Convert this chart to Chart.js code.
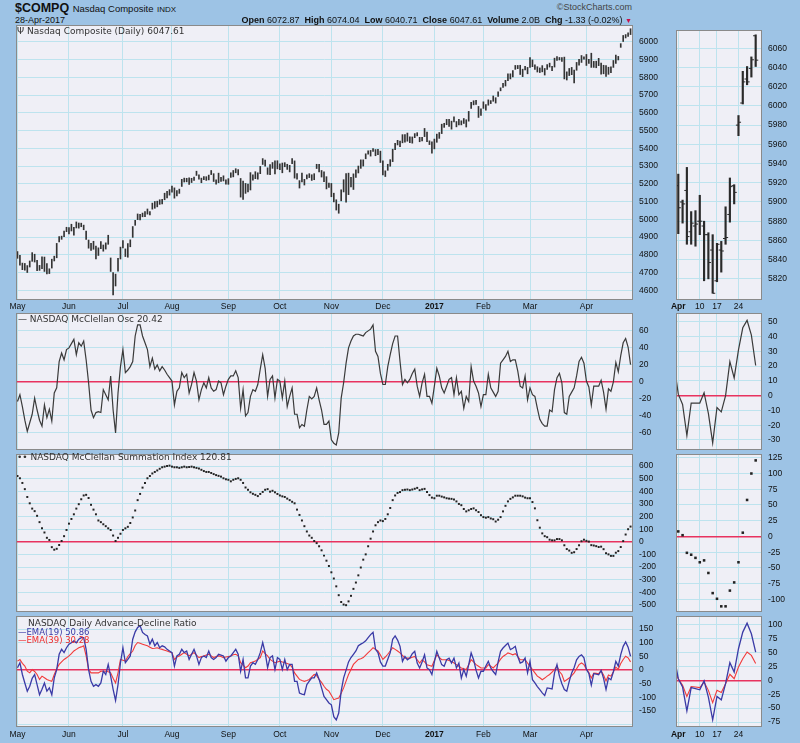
<!DOCTYPE html>
<html>
<head>
<meta charset="utf-8">
<script src="https://cdn.jsdelivr.net/npm/chart.js@4.4.1/dist/chart.umd.min.js"></script>
<style>
  html, body { margin: 0; padding: 0; }
  body { width: 800px; height: 743px; background: #9dc3e5; position: relative; overflow: hidden;
         font-family: "Liberation Sans", Arial, sans-serif; }
  canvas { position: absolute; z-index: 1; }
  .txt { position: absolute; white-space: nowrap; color: #111; line-height: 1; z-index: 5; }
  .lbl { position: absolute; white-space: nowrap; font-family: "DejaVu Sans", sans-serif;
         font-size: 9px; line-height: 1; color: #333; z-index: 5; }
</style>
</head>
<body>

<div class="txt" style="left:15px;top:1.5px;font-size:12.5px;font-weight:bold;">$COMPQ <span style="font-size:9.5px;font-weight:normal;">Nasdaq Composite</span> <span style="font-size:8px;font-weight:normal;">INDX</span></div>
<div class="txt" style="left:15px;top:16px;font-size:9px;">28-Apr-2017</div>
<div class="txt" style="right:168px;top:3px;font-size:9px;color:#444;">©StockCharts.com</div>
<div class="txt" style="right:168px;top:15.5px;font-size:9px;"><b>Open</b> 6072.87 &nbsp;<b>High</b> 6074.04 &nbsp;<b>Low</b> 6040.71 &nbsp;<b>Close</b> 6047.61 &nbsp;<b>Volume</b> 2.0B &nbsp;<b>Chg</b> -1.33 (-0.02%) <span style="color:#c8104a;font-size:7px;">▼</span></div>

<div class="lbl" style="left:17px;top:27px;">Ψ Nasdaq Composite (Daily) 6047.61</div>
<div class="lbl" style="left:18px;top:315px;">— NASDAQ McClellan Osc 20.42</div>
<div class="lbl" style="left:17px;top:453px;">•• NASDAQ McClellan Summation Index 120.81</div>
<div class="lbl" style="left:28px;top:619px;">NASDAQ Daily Advance-Decline Ratio</div>
<div class="lbl" style="left:18px;top:628px;font-size:8.5px;color:#3a3aa6;">—EMA(19) 50.86</div>
<div class="lbl" style="left:18px;top:636px;font-size:8.5px;color:#f02c2c;">—EMA(39) 30.28</div>

<script>
// trading days 2-May-2016 .. 28-Apr-2017, index 0..250
const monthTicks = [0, 21, 43, 63, 86, 107, 128, 149, 170, 190, 209, 232];
const monthLabels = ["May", "Jun", "Jul", "Aug", "Sep", "Oct", "Nov", "Dec", "2017", "Feb", "Mar", "Apr"];
const aprTicks = [232, 237, 241, 246];
const aprLabels = ["Apr", "10", "17", "24"];

const priceTicksLeft = [4600, 4700, 4800, 4900, 5000, 5100, 5200, 5300, 5400, 5500, 5600, 5700, 5800, 5900, 6000];
const priceTicksRight = [5820, 5840, 5860, 5880, 5900, 5920, 5940, 5960, 5980, 6000, 6020, 6040, 6060];
const oscTicksLeft = [-60, -40, -20, 0, 20, 40, 60];
const oscTicksRight = [-30, -20, -10, 0, 10, 20, 30, 40, 50];
const sumTicksLeft = [-500, -400, -300, -200, -100, 0, 100, 200, 300, 400, 500, 600];
const sumTicksRight = [-100, -75, -50, -25, 0, 25, 50, 75, 100, 125];
const adTicksLeft = [-200, -175, -150, -125, -100, -75, -50, -25, 0, 25, 50, 75, 100, 125, 150, 175];
const adTicksRight = [-75, -50, -25, 0, 25, 50, 75, 100];

const priceHigh = [
  4818,4797,4753,4751,4739,4765,4812,4803,4769,4740,4789,4787,4750,4721,4775,4792,4864,4902,4905,4933,4955,
  4953,4972,4954,4985,4979,4978,4967,4933,4883,4865,4876,4849,4839,4874,4855,4867,4910,4782,4699,4691,4780,4843,
  4880,4833,4863,4884,4959,4994,5030,5028,5035,5044,5058,5044,5091,5100,5102,5110,5113,5147,5158,5167,
  5187,5177,5162,5170,5225,5232,5231,5233,5231,5238,5271,5250,5232,5241,5240,5249,5275,5257,5222,5260,5237,5245,5222,
  5229,5262,5275,5285,5280,5230,5215,5202,5198,5263,5250,5268,5262,5298,5342,5333,5290,5308,5320,5330,5330,
  5312,5317,5319,5310,5304,5342,5329,5258,5218,5261,5225,5251,5257,5251,5257,5310,5309,5275,5268,5240,5204,
  5202,5147,5110,5085,5166,5223,5258,5260,5237,5256,5278,5300,5335,5335,5369,5386,5388,5398,5393,5394,5384,
  5330,5273,5310,5336,5395,5428,5445,5441,5477,5478,5486,5464,5464,5483,5488,5462,5462,5512,5491,5442,5437,
  5452,5480,5489,5536,5541,5563,5563,5553,5577,5551,5564,5555,5568,5561,5608,5659,5668,5670,5636,5623,
  5662,5647,5673,5669,5695,5685,5719,5741,5766,5783,5820,5820,5838,5867,5867,5868,5846,5862,5856,
  5911,5898,5871,5860,5853,5866,5850,5872,5880,5862,5908,5917,5912,5911,5914,5831,5850,5856,5841,5884,5901,5923,5916,
  5929,5902,5936,5890,5891,5907,5880,5868,5866,5857,5859,5895,5925,5918,5990,6036,6041,6051,6074
];
const priceLow = [
  4780,4741,4716,4713,4700,4731,4763,4759,4710,4712,4722,4706,4692,4694,4725,4765,4783,4873,4887,4902,4930,
  4918,4934,4910,4951,4950,4958,4941,4886,4837,4825,4831,4776,4796,4834,4820,4832,4859,4706,4574,4624,4708,4776,
  4838,4790,4786,4845,4898,4966,4998,4997,5014,5015,5029,5025,5057,5062,5070,5084,5086,5110,5120,5136,
  5153,5119,5132,5146,5185,5210,5211,5196,5207,5219,5247,5226,5206,5223,5219,5222,5252,5213,5198,5206,5214,5216,5198,
  5197,5236,5239,5262,5250,5125,5112,5146,5154,5165,5221,5229,5226,5257,5309,5300,5253,5251,5287,5255,5284,
  5280,5262,5296,5281,5267,5313,5232,5226,5176,5210,5193,5228,5235,5219,5223,5286,5267,5238,5212,5171,5180,
  5127,5098,5052,5034,5104,5154,5096,5139,5183,5168,5236,5261,5287,5300,5341,5367,5356,5383,5358,5364,5320,
  5250,5241,5276,5299,5325,5392,5419,5409,5431,5434,5440,5432,5429,5460,5470,5437,5441,5466,5437,5421,5372,
  5397,5434,5456,5483,5518,5533,5524,5508,5549,5521,5532,5532,5540,5520,5553,5625,5645,5647,5574,5586,
  5625,5615,5643,5652,5665,5655,5693,5724,5743,5751,5781,5791,5802,5845,5849,5816,5804,5842,5820,
  5856,5860,5844,5830,5827,5831,5813,5844,5858,5837,5858,5895,5898,5890,5791,5785,5810,5815,5769,5840,5868,5884,5902,
  5867,5878,5856,5856,5854,5866,5818,5820,5805,5817,5827,5856,5879,5898,5969,6002,6022,6030,6041
];
// April 2017 open / close (index 232..250)
const aprOpen = [5917,5900,5912,5869,5875,5880,5875,5866,5850,5818,5850,5862,5887,5917,5980,6003,6028,6039,6073];
const aprClose = [5894,5898,5864,5878,5877,5880,5866,5837,5805,5856,5849,5863,5916,5910,5983,6025,6025,6048,6047.61];

const mcOsc = [
  -23,-15,-29,-45,-58,-48,-38,-19,-33,-45,-52,-27,-42,-32,-46,-13,-7,24,34,26,
  38,40,45,50,32,46,42,48,26,-1,-33,-42,-36,-35,-36,-9,-15,-21,7,-33,
  -60,-13,18,38,11,14,18,24,54,67,67,54,46,38,18,28,15,20,13,18,
  14,9,5,1,-27,-11,-7,11,5,9,-13,-3,11,1,-21,-9,-1,-7,5,-7,
  -11,-9,1,-1,-15,-5,3,7,7,13,5,-31,-9,-40,-36,-17,-9,-11,-3,15,
  32,16,-17,3,7,-19,3,1,-19,1,-29,-17,-7,-38,-38,-54,-50,-52,-33,-17,
  -20,-17,-7,-21,-33,-50,-50,-46,-68,-72,-74,-60,-19,-1,22,40,48,54,56,56,
  55,54,58,60,62,67,36,30,10,-3,-3,18,32,45,54,54,24,-3,3,-1,
  3,10,15,-5,-17,-1,9,-17,-17,-25,-5,16,7,-7,-13,-5,3,5,-15,5,
  -15,-11,-31,-17,-23,18,1,-5,-13,-29,-15,-15,9,-7,-12,-17,-11,22,26,30,
  36,24,26,26,13,-5,-7,7,-21,-7,-15,-17,-31,-44,-49,-52,-52,-33,-35,-9,
  5,10,-1,-36,-38,-17,-12,-7,7,24,29,22,1,-6,-27,-5,-5,-5,2,-12,
  -32,-8,-11,0,23,12,31,46,51,41,20.42
];

const mcSum = [
  521,503,466,417,355,305,263,243,206,156,107,74,32,15,-42,-62,-55,-25,7,45,
  94,144,181,218,263,298,337,367,372,347,293,255,218,169,156,139,124,107,94,50,
  7,32,64,94,107,119,149,193,248,330,379,429,466,503,521,541,553,565,578,590,
  595,600,603,595,590,590,585,590,595,590,592,595,590,585,580,570,560,553,553,545,
  536,528,522,516,503,495,491,479,491,498,503,491,466,430,412,392,380,372,362,379,
  395,412,417,397,404,392,379,367,360,355,342,330,317,305,255,213,169,124,82,50,
  32,7,-10,-35,-67,-109,-149,-191,-241,-290,-352,-422,-476,-496,-501,-471,-427,-372,-322,-265,
  -203,-141,-99,-35,25,82,131,156,169,164,181,218,268,330,367,387,394,409,412,414,
  409,414,420,427,409,415,419,394,370,350,345,365,365,358,352,345,342,340,335,320,
  300,290,260,241,250,260,265,250,236,211,196,191,196,185,179,161,175,196,241,285,
  320,340,352,365,365,365,360,350,345,345,315,265,171,112,67,45,37,17,12,12,
  22,22,12,-27,-57,-69,-87,-82,-57,-27,5,17,8,2,-26,-29,-34,-41,-38,-58,
  -90,-99,-111,-111,-86,-73,-41,6,58,100,120.81
];

const adEma19 = [
  9,27,-16,-47,-77,-59,-30,-16,-53,-90,-70,-47,-77,-65,-90,-28,2,58,76,64,
  82,95,100,107,100,113,119,119,76,2,-41,-59,-53,-59,-47,-4,-16,21,-22,-70,
  -111,-53,27,82,27,39,52,113,140,156,162,138,130,125,95,113,89,101,82,89,
  85,76,70,64,15,52,58,76,64,70,39,58,76,52,21,46,52,46,70,46,
  39,46,58,55,52,33,46,52,64,76,58,-4,39,-28,-28,15,27,21,39,64,
  101,64,9,46,52,2,46,39,2,39,2,21,21,-41,-41,-84,-88,-90,-53,-40,
  -28,-28,-10,-34,-65,-96,-108,-120,-127,-170,-182,-157,-77,-28,0,30,46,58,70,89,
  95,100,107,119,130,138,76,64,30,15,15,40,64,113,125,110,87,32,50,38,
  44,60,69,26,8,30,56,8,2,-16,30,69,44,20,14,38,44,26,44,8,
  26,-29,2,-22,20,63,38,0,-29,-4,-4,15,32,8,-5,-16,30,69,81,90,
  99,75,80,87,50,26,30,44,-10,32,-35,-47,-60,-71,-83,-93,-65,-67,-69,-10,
  20,-22,-50,-71,-77,-41,-10,10,38,50,56,45,3,-12,-55,-13,-15,-17,-1,-30,
  -71,-29,-35,-6,32,15,57,87,103,84,50.86
];

const adEma39 = [
  33,39,25,15,-4,-10,2,-5,-16,-34,-22,-28,-34,-38,-41,-16,5,21,30,39,
  45,52,60,70,76,82,85,89,52,2,-10,-10,-10,-10,-4,-4,-4,-6,-10,-30,
  -47,-10,39,36,33,50,60,70,90,101,98,95,92,89,84,79,80,82,78,76,
  73,70,66,64,39,48,52,58,64,58,52,58,64,55,46,50,52,55,58,52,
  46,50,52,50,46,48,50,52,56,58,52,27,18,9,15,27,30,33,40,46,
  70,60,52,39,33,27,30,33,30,27,24,21,10,-10,-22,-34,-38,-41,-38,-34,
  -25,-16,-20,-34,-45,-59,-70,-77,-92,-108,-105,-102,-85,-65,-40,-16,2,21,30,39,
  42,46,55,64,72,82,76,70,55,39,48,58,70,82,76,70,63,54,44,44,
  44,47,50,38,26,38,30,20,17,14,35,56,47,38,38,38,35,32,26,20,
  14,8,5,2,20,38,30,20,14,8,8,8,20,14,8,17,26,40,50,56,
  63,60,56,60,50,38,38,38,26,14,2,-10,-22,-28,-35,-29,-22,-16,-7,2,
  14,-5,-16,-41,-35,-29,-20,-10,5,20,26,20,3,-9,-29,-11,-12,-13,-3,-18,
  -40,-18,-22,-6,11,3,24,39,51,45,30.28
];

const GRID = "#bde3ee";
const ZERO = "#e8325f";
const PANEL_BG = "#efeff6";
const BORDER = "#8a8a8a";
const TICK_FONT = { family: "Liberation Sans", size: 8.5 };

// fills the plot area and draws its frame
const panelPlugin = {
  id: "panel",
  beforeDraw(chart) {
    const { ctx, chartArea: a } = chart;
    ctx.save();
    ctx.fillStyle = PANEL_BG;
    ctx.fillRect(a.left, a.top, a.width, a.height);
    ctx.restore();
  },
  afterDraw(chart) {
    const { ctx, chartArea: a } = chart;
    ctx.save();
    ctx.strokeStyle = BORDER;
    ctx.lineWidth = 1;
    ctx.strokeRect(Math.round(a.left) + 0.5, Math.round(a.top) + 0.5, Math.round(a.width) - 1, Math.round(a.height) - 1);
    ctx.restore();
  }
};

function addCanvas(left, top, w, h) {
  const c = document.createElement("canvas");
  c.width = w;
  c.height = h;
  c.style.left = left + "px";
  c.style.top = top + "px";
  c.style.width = w + "px";
  c.style.height = h + "px";
  document.body.appendChild(c);
  return c;
}

function makePanel(cfg) {
  const left = cfg.side === "left";
  const canvas = addCanvas(left ? 0 : 670, cfg.top, left ? 676 : 130, cfg.height);
  const xt = left ? monthTicks : aprTicks;
  const xl = left ? monthLabels : aprLabels;
  const boldIdx = left ? 8 : 0;
  const isZero = (c) => cfg.zero && c.tick && c.tick.value === 0;

  return new Chart(canvas, {
    type: cfg.type || "line",
    data: { datasets: cfg.datasets },
    options: {
      responsive: false,
      animation: false,
      events: [],
      layout: { padding: { left: left ? 16 : 6, right: 0, top: 0, bottom: 0 } },
      plugins: { legend: { display: false }, tooltip: { enabled: false } },
      scales: {
        x: {
          type: "linear",
          offset: false,
          min: left ? -0.6 : 231.47,
          max: left ? 251 : 251.47,
          afterBuildTicks: (a) => { a.ticks = xt.map((v) => ({ value: v })); },
          afterFit: (a) => { a.height = cfg.xHeight || 0; a.paddingLeft = 0; a.paddingRight = 0; },
          ticks: {
            display: !!cfg.xHeight,
            autoSkip: false,
            maxRotation: 0,
            padding: cfg.xPad || 2,
            color: "#111",
            callback: (v, i) => xl[i],
            font: (c) => ({ family: "Liberation Sans", size: 8.5, weight: c.index === boldIdx ? "bold" : "normal" })
          },
          grid: { color: GRID, drawTicks: false, offset: false },
          border: { display: false }
        },
        y: {
          type: "linear",
          position: "right",
          min: cfg.yMin,
          max: cfg.yMax,
          afterBuildTicks: (a) => { a.ticks = cfg.yTicks.map((v) => ({ value: v })); },
          afterFit: (a) => { a.width = left ? 43 : 38; a.paddingTop = 0; a.paddingBottom = 0; },
          ticks: {
            padding: 6,
            color: "#111",
            font: TICK_FONT,
            callback: (v) => (cfg.labelEvery && (v % cfg.labelEvery !== 0 || v < -150)) ? "" : String(v)
          },
          grid: {
            drawTicks: false,
            color: (c) => isZero(c) ? ZERO : GRID,
            lineWidth: (c) => isZero(c) ? 1.6 : 1
          },
          border: { display: false }
        }
      }
    },
    plugins: [panelPlugin]
  });
}

const allIdx = priceHigh.map((_, i) => i);
const aprIdx = aprOpen.map((_, i) => 232 + i);
const lineOf = (arr) => arr.map((v, i) => ({ x: i, y: v }));

// price bars
const barsLeft = allIdx.map((i) => ({ x: i, y: [priceLow[i], priceHigh[i]] }));
const barsRight = allIdx.filter((i) => i >= 231).map((i) => ({ x: i, y: [priceLow[i], priceHigh[i]] }));

makePanel({
  side: "left", type: "bar", top: 25, height: 288, xHeight: 13, xPad: 2,
  yMin: 4545, yMax: 6095, yTicks: priceTicksLeft,
  datasets: [{ data: barsLeft, backgroundColor: "#333", borderWidth: 0, barThickness: 1 }]
});

makePanel({
  side: "right", type: "bar", top: 25, height: 288, xHeight: 13, xPad: 2,
  yMin: 5798, yMax: 6079, yTicks: priceTicksRight,
  datasets: [
    { type: "line", data: aprIdx.map((x, k) => ({ x: x - 0.32, y: aprOpen[k] })), showLine: false,
      pointStyle: "line", pointRadius: 1.2, borderColor: "#2a2a2a", borderWidth: 1 },
    { type: "line", data: aprIdx.map((x, k) => ({ x: x + 0.32, y: aprClose[k] })), showLine: false,
      pointStyle: "line", pointRadius: 1.2, borderColor: "#2a2a2a", borderWidth: 1 },
    { data: barsRight, backgroundColor: "#2a2a2a", borderWidth: 0, barThickness: 1.5 }
  ]
});

// McClellan oscillator
const oscLine = { borderColor: "#3a3a3a", borderWidth: 1.2, pointRadius: 0, tension: 0 };
makePanel({
  side: "left", top: 313, height: 137, zero: true,
  yMin: -80, yMax: 81, yTicks: oscTicksLeft,
  datasets: [Object.assign({ data: lineOf(mcOsc) }, oscLine)]
});
makePanel({
  side: "right", top: 313, height: 137, zero: true,
  yMin: -36.8, yMax: 56, yTicks: oscTicksRight,
  datasets: [Object.assign({ data: lineOf(mcOsc).filter((p) => p.x >= 231) }, oscLine)]
});

// Summation index
makePanel({
  side: "left", top: 450, height: 166, zero: true,
  yMin: -555, yMax: 695, yTicks: sumTicksLeft,
  datasets: [{ data: lineOf(mcSum), showLine: false, pointStyle: "rect", pointRadius: 1.4,
               backgroundColor: "#222", borderWidth: 0 }]
});
makePanel({
  side: "right", top: 450, height: 166, zero: true,
  yMin: -120, yMax: 131, yTicks: sumTicksRight,
  datasets: [{ data: lineOf(mcSum).filter((p) => p.x >= 232), showLine: false, pointStyle: "rect", pointRadius: 1.8,
               backgroundColor: "#222", borderWidth: 0 }]
});

// Advance-decline ratio EMAs
const blueLine = { borderColor: "#3a3aa6", borderWidth: 1.3, pointRadius: 0, tension: 0 };
const redLine = { borderColor: "#f23a3a", borderWidth: 1.1, pointRadius: 0, tension: 0 };
makePanel({
  side: "left", top: 616, height: 127, xHeight: 16, xPad: 3, zero: true,
  yMin: -208, yMax: 198, yTicks: adTicksLeft, labelEvery: 50,
  datasets: [
    Object.assign({ data: lineOf(adEma19) }, blueLine),
    Object.assign({ data: lineOf(adEma39) }, redLine)
  ]
});
makePanel({
  side: "right", top: 616, height: 127, xHeight: 16, xPad: 3, zero: true,
  yMin: -84, yMax: 116, yTicks: adTicksRight,
  datasets: [
    Object.assign({ data: lineOf(adEma19).filter((p) => p.x >= 231) }, blueLine),
    Object.assign({ data: lineOf(adEma39).filter((p) => p.x >= 231) }, redLine)
  ]
});
</script>
</body>
</html>
